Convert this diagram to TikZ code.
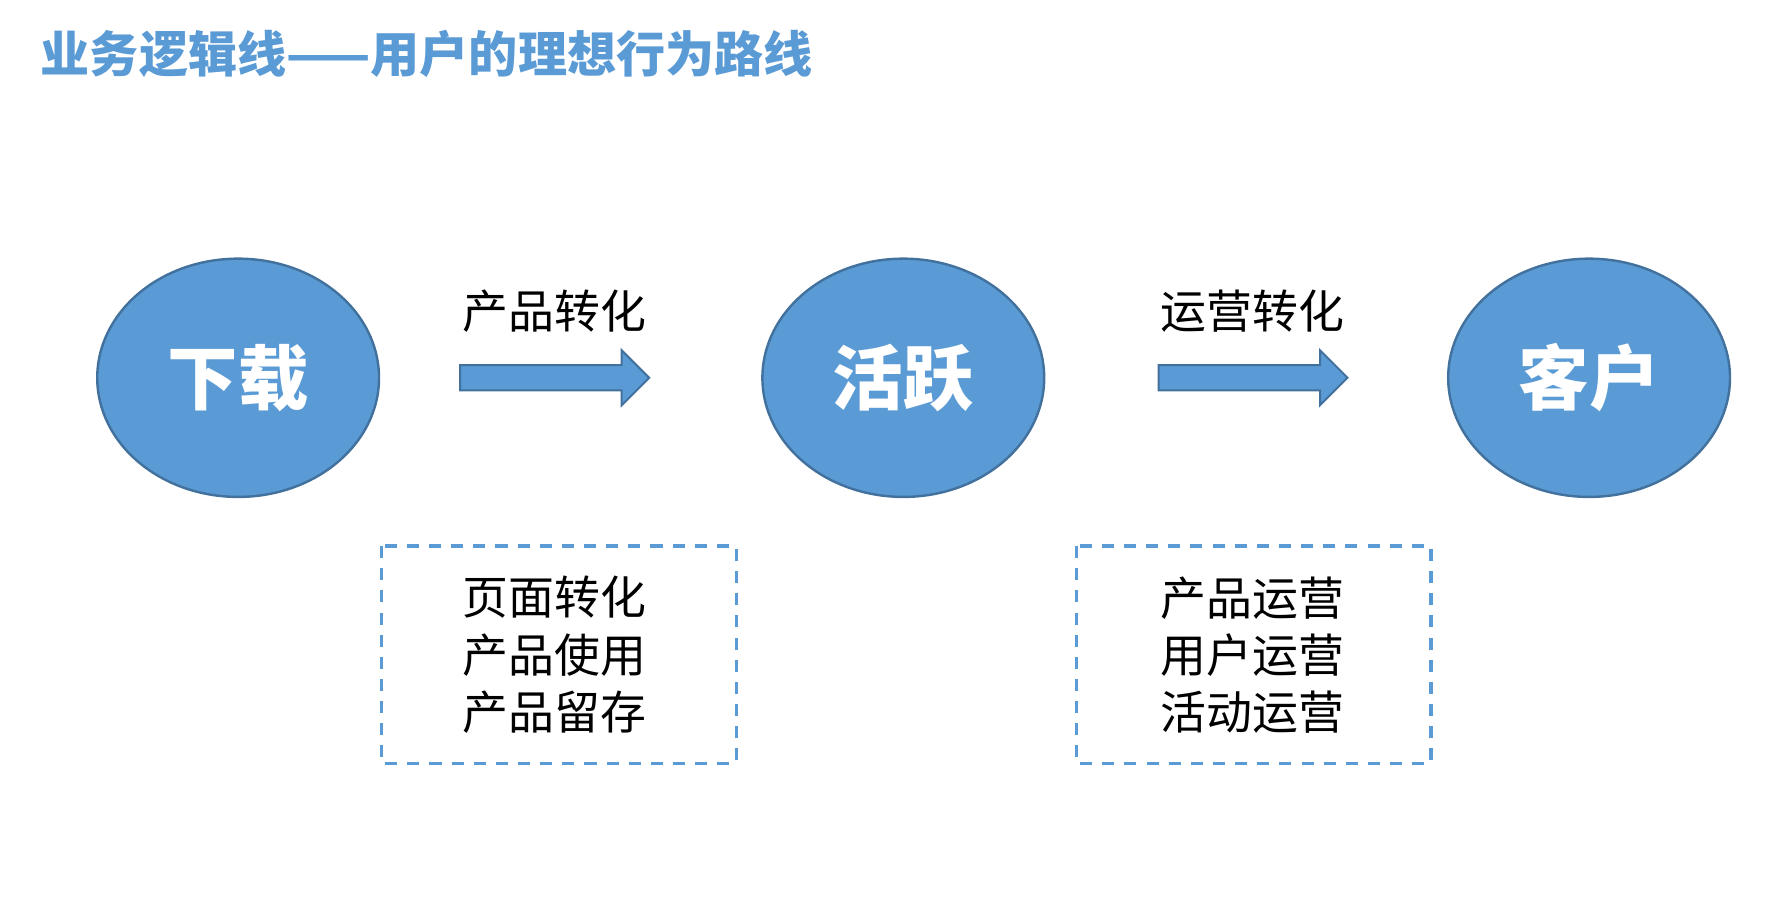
\documentclass[tikz,border=0pt]{standalone}
\usepackage{fontspec}
\setmainfont{Noto Sans CJK SC}
\usetikzlibrary{shapes.geometric}
\definecolor{blu}{HTML}{5B9BD5}
\definecolor{blud}{HTML}{41719C}
\begin{document}
\begin{tikzpicture}[x=0.01cm,y=-0.01cm,
  ell/.style={ellipse,fill=blu,draw=blud,line width=0.6pt,minimum width=2.46cm,minimum height=2.08cm,text=white,font=\fontsize{17.5}{20}\selectfont\bfseries},
  lab/.style={font=\fontsize{11.4}{14.2}\selectfont},
  box/.style={draw=blu,line width=0.8pt,dash pattern=on 3pt off 2.5pt},
  arr/.style={fill=blu,draw=blud,line width=0.5pt}]
\useasboundingbox (0,0) rectangle (1560,792);
\node[anchor=west,inner sep=0pt,text=blu,font=\fontsize{12.2}{14}\selectfont\bfseries] (title) at (35,47) {业务逻辑线——用户的理想行为路线};
\node[ell] (a) at (208,330) {下载};
\node[ell] (b) at (789,330) {活跃};
\node[ell] (c) at (1388,330) {客户};
\node[lab] (l1) at (484,272) {产品转化};
\node[lab] (l2) at (1094,272) {运营转化};
\draw[arr] (402,319) -- (543,319) -- (543,306) -- (567,330) -- (543,354) -- (543,341) -- (402,341) -- cycle;
\draw[arr] (1012,319) -- (1153,319) -- (1153,306) -- (1177,330) -- (1153,354) -- (1153,341) -- (1012,341) -- cycle;
\draw[box] (333,477) rectangle (643,667);
\draw[box] (940,477) rectangle (1250,667);
\node[lab,align=left] (t1) at (484,572) {页面转化\\产品使用\\产品留存};
\node[lab,align=left] (t2) at (1094,572) {产品运营\\用户运营\\活动运营};
\end{tikzpicture}
\end{document}
